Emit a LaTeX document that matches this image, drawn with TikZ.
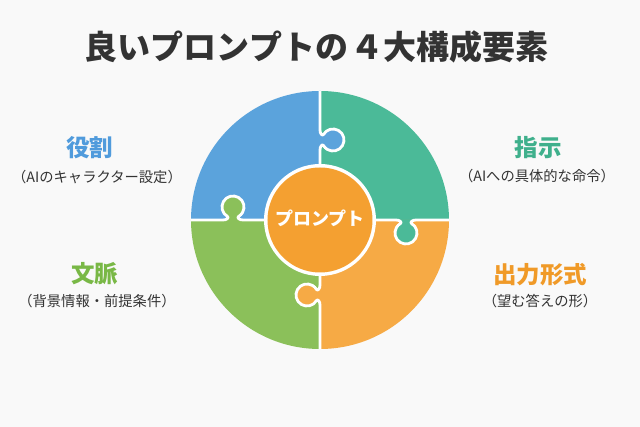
\documentclass[tikz,border=0pt]{standalone}
\usepackage{fontspec}
\setmainfont{Noto Sans CJK JP}
\definecolor{bg}{HTML}{F9F9F9}
\definecolor{pblue}{HTML}{5BA3DC}
\definecolor{pteal}{HTML}{4BBA98}
\definecolor{pgreen}{HTML}{8BC05A}
\definecolor{porange}{HTML}{F6AA45}
\definecolor{corange}{HTML}{F4A031}
\definecolor{hblue}{HTML}{509BDC}
\definecolor{hteal}{HTML}{3FB08C}
\definecolor{hgreen}{HTML}{79B846}
\definecolor{horange}{HTML}{F09A28}
\definecolor{txt}{HTML}{333333}
\tikzset{
  heading/.style={font=\fontsize{23.5}{26}\selectfont\bfseries, inner sep=0pt, anchor=center},
  caption/.style={font=\fontsize{14.3}{17}\selectfont, text=txt, inner sep=0pt, anchor=center},
  cutline/.style={draw=white, line width=2.8pt, line join=round}
}
\begin{document}
\begin{tikzpicture}[x=1pt,y=1pt]
\fill[bg] (-320,-207) rectangle (320,220);
\useasboundingbox (-320,-207) rectangle (320,220);
\def\R{129}
% quadrants
\fill[pteal] (0,0) -- (0:\R) arc[start angle=0,end angle=90,radius=\R] -- cycle;
\fill[pblue] (0,0) -- (90:\R) arc[start angle=90,end angle=180,radius=\R] -- cycle;
\fill[pgreen] (0,0) -- (180:\R) arc[start angle=180,end angle=270,radius=\R] -- cycle;
\fill[porange] (0,0) -- (270:\R) arc[start angle=270,end angle=360,radius=\R] -- cycle;
% knobs
\begin{scope}
\clip (0,0) circle (\R);
\foreach \sx/\sy/\rot/\col in {0/80/-90/pblue, -87/0/0/pgreen, 86/0/180/pteal, 0/-75/90/porange}{
  \begin{scope}[shift={(\sx,\sy)},rotate=\rot]
    \fill[\col] (-10,-0.5) -- (-10,0) .. controls (-6.3,0) and (-3.7,2.2) .. (-5.5,3.47)
      arc[start angle=240,end angle=-60,radius=11]
      .. controls (3.7,2.2) and (6.3,0) .. (10,0) -- (10,-0.5) -- cycle;
    \draw[cutline] (-60,0) -- (-10,0) .. controls (-6.3,0) and (-3.7,2.2) .. (-5.5,3.47)
      arc[start angle=240,end angle=-60,radius=11]
      .. controls (3.7,2.2) and (6.3,0) .. (10,0) -- (60,0);
  \end{scope}
}
\end{scope}
% center
\fill[white] (0,0) circle (56);
\fill[corange] (0,0) circle (52.5);
\node[font=\fontsize{18}{20}\selectfont\bfseries, text=white, inner sep=0pt] (center) at (0,2) {プロンプト};
% title
\node[font=\fontsize{33}{36}\selectfont\bfseries, text=txt, inner sep=0pt] (title) at (-3,173) {良いプロンプトの\hspace{3pt}４大構成要素};
% labels
\node[heading, text=hblue] (role) at (-230,72) {役割};
\node[caption] (rolecap) at (-223,43) {（AIのキャラクター設定）};
\node[heading, text=hgreen] (ctx) at (-225,-54) {文脈};
\node[caption] (ctxcap) at (-223,-81) {（背景情報・前提条件）};
\node[heading, text=hteal] (instr) at (218,72) {指示};
\node[caption] (instrcap) at (217,44) {（AIへの具体的な命令）};
\node[heading, text=horange] (out) at (220,-55) {出力形式};
\node[caption] (outcap) at (220,-81) {（望む答えの形）};
\end{tikzpicture}
\end{document}
